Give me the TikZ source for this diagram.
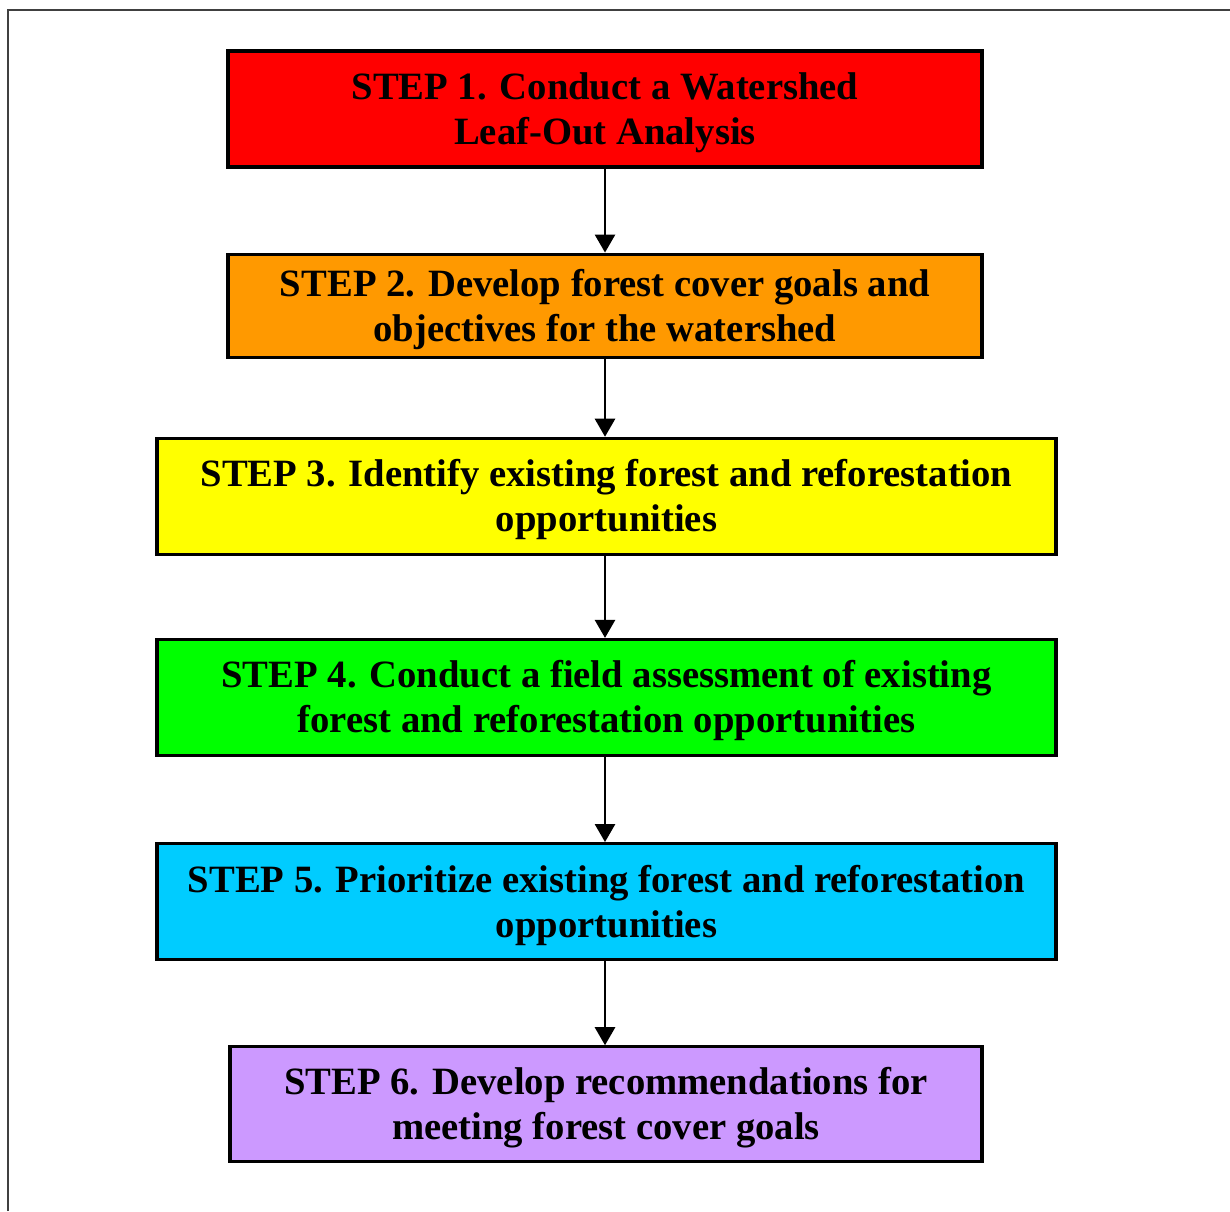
\documentclass[tikz,border=0pt]{standalone}
\usepackage{fontspec}
\setmainfont{Liberation Serif}
\usepackage{xcolor}
\usetikzlibrary{arrows.meta,positioning}
\definecolor{stepred}{HTML}{FF0000}
\definecolor{steporange}{HTML}{FF9900}
\definecolor{stepyellow}{HTML}{FFFF00}
\definecolor{stepgreen}{HTML}{00FF00}
\definecolor{stepcyan}{HTML}{00CCFF}
\definecolor{steppurple}{HTML}{CC99FF}

\begin{document}
\begin{tikzpicture}[
		stepbox/.style = {rectangle, draw = black, line width = 1.8pt, align = center,
			font = \fontsize{22}{25.6}\selectfont\bfseries, inner sep = 0pt, text height = 1.58cm,
			minimum width = 15.08cm, minimum height = 2.32cm},
		widebox/.style = {stepbox, minimum width = 17.98cm},
		flowarrow/.style = {draw = black, line width = 1.5pt, -{Triangle[width = 0.4cm, length = 0.36cm]}}
		]
\useasboundingbox (0,0) rectangle (24.6,-24.22);
\draw[line width = 1.1pt, draw = black!75] (0.16,-24.22) -- (0.16,-0.2) -- (24.6,-0.2);

\node[stepbox, fill = stepred] (s1) at (12.1,-2.18){STEP 1. Conduct a Watershed\\Leaf-Out Analysis};
\node[stepbox, fill = steporange, minimum height = 2.06cm][below = 1.68cm of {s1}] (s2){STEP 2. Develop forest cover goals and\\objectives for the watershed};
\node[widebox, fill = stepyellow][below = 1.56cm of {s2}, xshift = 0.03cm] (s3){STEP 3. Identify existing forest and reforestation\\opportunities};
\node[widebox, fill = stepgreen][below = 1.64cm of {s3}] (s4){STEP 4. Conduct a field assessment of existing\\forest and reforestation opportunities};
\node[widebox, fill = stepcyan][below = 1.70cm of {s4}] (s5){STEP 5. Prioritize existing forest and reforestation\\opportunities};
\node[stepbox, fill = steppurple, minimum width = 15.04cm, minimum height = 2.3cm][below = 1.68cm of {s5}, xshift = -0.01cm] (s6){STEP 6. Develop recommendations for\\meeting forest cover goals};

\draw[flowarrow] (s1.south) -- (s2.north);
\draw[flowarrow] (s2.south) -- (s3.north -| s2.south);
\draw[flowarrow] (s3.south -| s2.south) -- (s4.north -| s2.south);
\draw[flowarrow] (s4.south -| s2.south) -- (s5.north -| s2.south);
\draw[flowarrow] (s5.south -| s2.south) -- (s6.north -| s2.south);

\end{tikzpicture}
\end{document}
